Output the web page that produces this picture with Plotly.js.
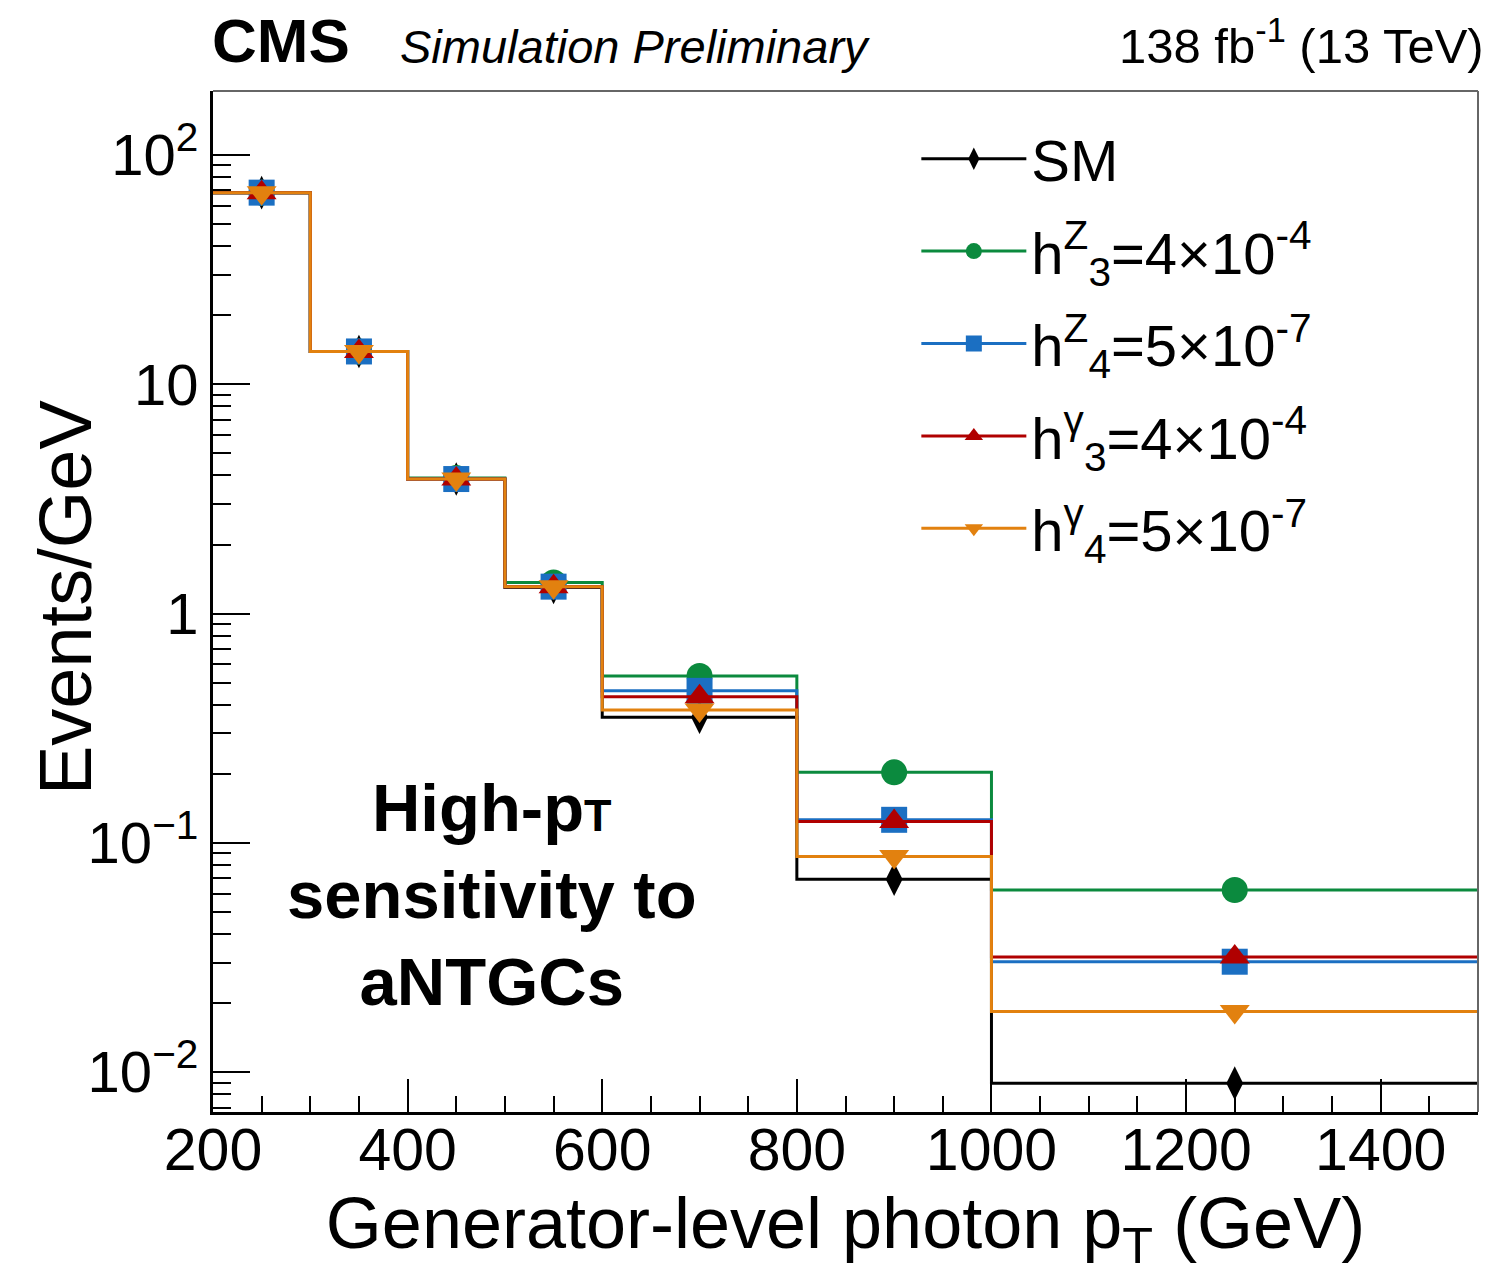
<!DOCTYPE html>
<html><head><meta charset="utf-8">
<script src="https://cdn.plot.ly/plotly-3.0.1.min.js"></script>
<style>body{margin:0;background:#fff}</style>
</head><body><div id="chart" style="width:1487px;height:1280px"></div>
<script>
// Bin edges of generator-level photon pT (GeV)
const binEdges = [200, 300, 400, 500, 600, 800, 1000, 1500];
// Events/GeV per bin
const smValues  = [68.5, 13.9, 3.86, 1.30, 0.353, 0.0694, 0.00895];
const h3ZValues = [68.5, 13.9, 3.90, 1.365, 0.534, 0.203, 0.0623];
const h4ZValues = [68.5, 13.9, 3.86, 1.31, 0.460, 0.126, 0.0303];
const h3gValues = [68.5, 13.9, 3.86, 1.31, 0.434, 0.1238, 0.0318];
const h4gValues = [68.5, 13.9, 3.86, 1.31, 0.380, 0.0871, 0.01836];

const seriesLabels = [
  'SM',
  'h<sup>Z</sup><sub>3</sub>=4×10<sup>-4</sup>',
  'h<sup>Z</sup><sub>4</sub>=5×10<sup>-7</sup>',
  'h<sup>γ</sup><sub>3</sub>=4×10<sup>-4</sup>',
  'h<sup>γ</sup><sub>4</sub>=5×10<sup>-7</sup>'
];
const seriesColors = ['#000000', '#0b8a3e', '#1b6fc2', '#b00000', '#e2810f'];
const seriesSymbols = ['diamond-tall', 'circle', 'square', 'triangle-up', 'triangle-down'];
const seriesValues = [smValues, h3ZValues, h4ZValues, h3gValues, h4gValues];

const yTickVals = [0.01, 0.1, 1, 10, 100];
const yTickText = ['10<sup>−2</sup>', '10<sup>−1</sup>', '1', '10', '10<sup>2</sup>'];

const FONT = 'Liberation Sans, Arial, Helvetica, sans-serif';

const traces = [];
seriesValues.forEach((vals, i) => {
  const sx = binEdges.slice();
  const sy = vals.concat([vals[vals.length - 1]]);
  traces.push({
    type: 'scatter', mode: 'lines', x: sx, y: sy,
    line: {shape: 'hv', color: seriesColors[i], width: 3},
    showlegend: false, hoverinfo: 'skip', legendgroup: 'g' + i
  });
  const mx = [], my = [];
  vals.forEach((v, k) => {
    mx.push((binEdges[k] + binEdges[k + 1]) / 2); my.push(v);
    mx.push(null); my.push(null);
  });
  traces.push({
    type: 'scatter', mode: 'lines+markers', x: mx, y: my, connectgaps: false,
    name: seriesLabels[i], legendgroup: 'g' + i,
    line: {color: seriesColors[i], width: 3},
    marker: {symbol: seriesSymbols[i], color: seriesColors[i], size: i === 0 ? 24 : 26,
             line: {width: 0}}
  });
});

const layout = {
  width: 1487, height: 1280,
  margin: {l: 213, r: 9, t: 91, b: 168},
  paper_bgcolor: '#fff', plot_bgcolor: '#fff',
  font: {family: FONT, color: '#000'},
  showlegend: true,
  legend: {
    x: 0.556, y: 0.977, xanchor: 'left', yanchor: 'top',
    bgcolor: 'rgba(0,0,0,0)', font: {size: 58, family: FONT},
    itemwidth: 105, tracegroupgap: 14, traceorder: 'grouped'
  },
  xaxis: {
    type: 'linear', range: [200, 1500],
    tickmode: 'linear', tick0: 200, dtick: 200,
    ticks: 'inside', ticklen: 33, tickwidth: 2, tickcolor: '#000',
    minor: {dtick: 50, tick0: 200, ticks: 'inside', ticklen: 16, tickwidth: 2, tickcolor: '#000'},
    showgrid: false, zeroline: false,
    showline: true, linecolor: '#000', linewidth: 3,
    tickfont: {size: 59, family: FONT},
    ticklabelstandoff: -16,
    title: {text: 'Generator-level photon p<sub>T</sub> (GeV)', font: {size: 72, family: FONT}, standoff: 14},
    automargin: false
  },
  yaxis: {
    type: 'log', range: [-2.174, 2.279],
    tickmode: 'array', tickvals: yTickVals, ticktext: yTickText,
    ticks: 'inside', ticklen: 37, tickwidth: 2, tickcolor: '#000',
    minor: {dtick: 'D1', ticks: 'inside', ticklen: 18, tickwidth: 2, tickcolor: '#000'},
    showgrid: false, zeroline: false,
    showline: true, linecolor: '#000', linewidth: 3,
    tickfont: {size: 58, family: FONT},
    automargin: false
  },
  shapes: [
    {type: 'line', xref: 'paper', yref: 'paper', x0: 0, x1: 1, y0: 1, y1: 1, line: {color: '#666', width: 2}},
    {type: 'line', xref: 'paper', yref: 'paper', x0: 1, x1: 1, y0: 0, y1: 1, line: {color: '#666', width: 2}}
  ],
  annotations: [
    {xref: 'paper', yref: 'paper', x: -0.1165, y: 0.504, xanchor: 'center', yanchor: 'middle',
     text: 'Events/GeV', textangle: -90, showarrow: false, font: {size: 74, family: FONT}},
    {xref: 'paper', yref: 'paper', x: -0.002, y: 1.014, xanchor: 'left', yanchor: 'bottom',
     text: '<b>CMS</b>', showarrow: false, font: {size: 62, family: FONT}},
    {xref: 'paper', yref: 'paper', x: 0.146, y: 1.016, xanchor: 'left', yanchor: 'bottom',
     text: '<i>Simulation Preliminary</i>', showarrow: false, font: {size: 47, family: FONT}},
    {xref: 'paper', yref: 'paper', x: 1.006, y: 1.016, xanchor: 'right', yanchor: 'bottom',
     text: '138 fb<sup>-1</sup> (13 TeV)', showarrow: false, font: {size: 49, family: FONT}},
    {xref: 'paper', yref: 'paper', x: 0.2206, y: 0.2135, xanchor: 'center', yanchor: 'middle',
     text: '<b>High-p<span style="font-size:45px">T</span><br>sensitivity to<br>aNTGCs</b>',
     showarrow: false, align: 'center', font: {size: 67, family: FONT}}
  ]
};

Plotly.newPlot('chart', traces, layout, {displayModeBar: false, staticPlot: true});
</script>
</body></html>
